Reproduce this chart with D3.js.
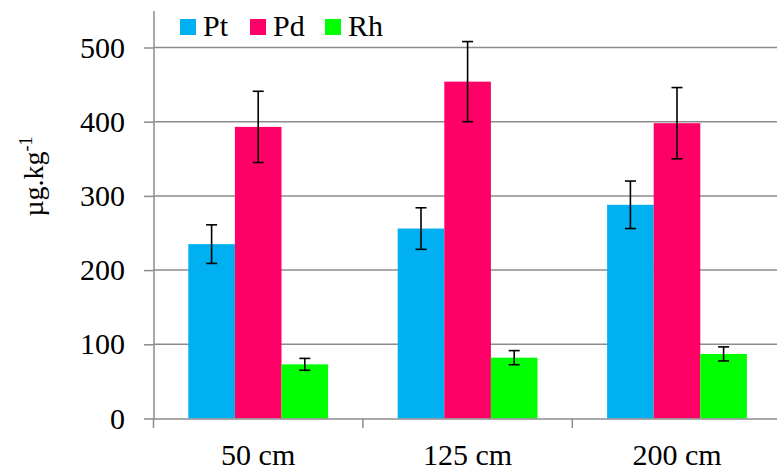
<!DOCTYPE html>
<html><head><meta charset="utf-8">
<script src="https://cdn.jsdelivr.net/npm/d3@7"></script>
</head><body style="margin:0"><svg id="c" width="777" height="469"></svg>
<script>
const categories = ["50 cm", "125 cm", "200 cm"];
const seriesNames = ["Pt", "Pd", "Rh"];
const ptValues = [235, 256, 288];
const ptErrors = [26, 28, 32];
const pdValues = [393, 454, 398];
const pdErrors = [48, 54, 48];
const rhValues = [73, 82, 87];
const rhErrors = [8, 9.5, 9.5];
const yTicks = [0, 100, 200, 300, 400, 500];
const colors = ["#00B0F0", "#FF0066", "#00FF00"];

const values = [ptValues, pdValues, rhValues];
const errors = [ptErrors, pdErrors, rhErrors];
const rows = [];
categories.forEach((c, i) => seriesNames.forEach((s, j) => rows.push({c, s, j, v: values[j][i], e: errors[j][i]})));

const svg = d3.select("#c");
const x0 = 153.5, x1 = 781.7, yb = 418.5, pxPer = 0.742;
const x = d3.scaleBand().domain(categories).range([x0, x1]).padding(0);
const xi = d3.scaleBand().domain(seriesNames).range([0, x.bandwidth()]).paddingInner(0).paddingOuter(0.747);
const y = d3.scaleLinear().domain([0, 550]).range([yb, yb - 550 * pxPer]);

function serif(sel, size) {
  return sel.style("font-family", '"Liberation Serif"').attr("font-size", size).attr("fill", "#000");
}

// legend first
const lx = [180, 250, 325];
serif(svg.selectAll("text.leg").data(seriesNames).join("text").attr("class", "leg"), 30)
  .attr("x", (d, j) => lx[j] + 23).attr("y", 36).text(d => d);
svg.selectAll("rect.leg").data(seriesNames).join("rect").attr("class", "leg")
  .attr("x", (d, j) => lx[j]).attr("y", 19).attr("width", 16).attr("height", 16).attr("fill", (d, j) => colors[j]);

// gridlines
svg.append("g").selectAll("line").data(yTicks.filter(d => d > 0)).join("line")
  .attr("x1", x0).attr("x2", x1).attr("y1", d => y(d)).attr("y2", d => y(d))
  .attr("stroke", "#8c8c8c").attr("stroke-width", 1.5);

// bars
svg.append("g").selectAll("rect").data(rows).join("rect")
  .attr("x", d => x(d.c) + xi(d.s)).attr("width", xi.bandwidth())
  .attr("y", d => y(d.v)).attr("height", d => y(0) - y(d.v))
  .attr("fill", d => colors[d.j]);

// error bars
const eb = svg.append("g").attr("stroke", "#000").attr("stroke-width", 1.6);
rows.forEach(d => {
  const cx = x(d.c) + xi(d.s) + xi.bandwidth() / 2;
  eb.append("line").attr("x1", cx).attr("x2", cx).attr("y1", y(d.v + d.e)).attr("y2", y(d.v - d.e));
  [d.v + d.e, d.v - d.e].forEach(t => eb.append("line").attr("x1", cx - 5.5).attr("x2", cx + 5.5).attr("y1", y(t)).attr("y2", y(t)));
});

// y axis
const ya = svg.append("g").attr("transform", `translate(${x0},0)`)
  .call(d3.axisLeft(y).tickValues(yTicks).tickSize(9.5).tickPadding(19).tickSizeOuter(0));
ya.attr("font-family", null).attr("font-size", null);
ya.select(".domain").attr("stroke", "#8c8c8c").attr("stroke-width", 1.5);
ya.selectAll(".tick line").attr("stroke", "#8c8c8c").attr("stroke-width", 1.5);
serif(ya.selectAll(".tick text"), 30);

// x axis
const xa = svg.append("g").attr("transform", `translate(0,${yb})`)
  .call(d3.axisBottom(x).tickSize(0).tickPadding(0).tickSizeOuter(0));
xa.attr("font-family", null).attr("font-size", null);
xa.select(".domain").attr("stroke", "#8c8c8c").attr("stroke-width", 1.5);
serif(xa.selectAll(".tick text"), 30).attr("dy", null).attr("y", 46);
svg.append("g").selectAll("line").data(categories).join("line")
  .attr("x1", d => x(d)).attr("x2", d => x(d)).attr("y1", yb).attr("y2", yb + 9.5)
  .attr("stroke", "#8c8c8c").attr("stroke-width", 1.5);

// y title
serif(svg.append("text"), 28).attr("transform", "translate(43,176.5) rotate(-90)").attr("text-anchor", "middle")
  .call(t => { t.append("tspan").text("µg.kg"); t.append("tspan").attr("dy", -11).attr("font-size", 18).text("-1"); });

// force style resolution / font matching
svg.selectAll("text").each(function () { getComputedStyle(this).fontFamily; this.getBBox(); });
document.fonts.load('30px "Liberation Serif"').then(() => {
  svg.selectAll("text").style("font-family", '"Liberation Serif", serif');
});
</script></body></html>
